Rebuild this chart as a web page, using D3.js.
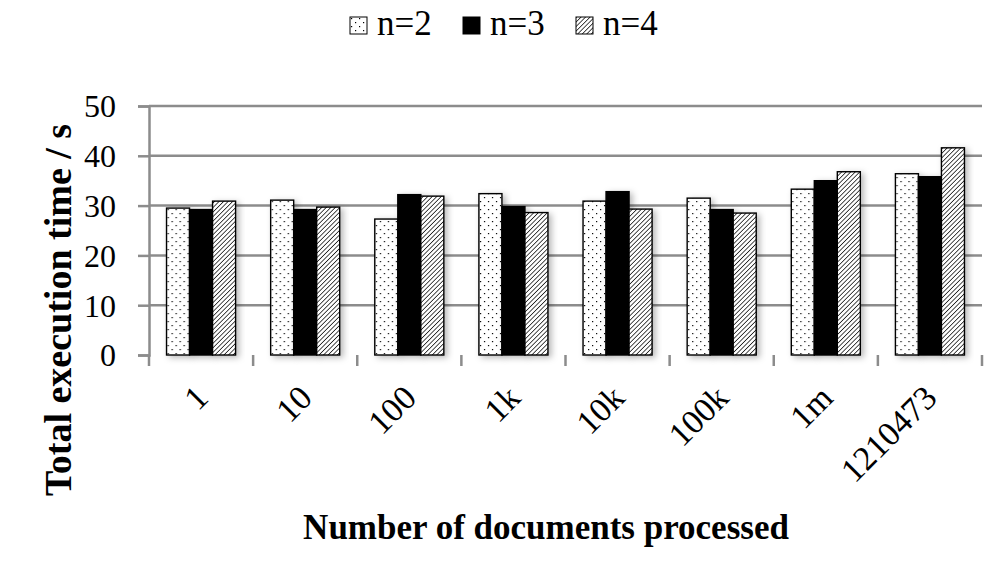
<!DOCTYPE html>
<html>
<head>
<meta charset="utf-8">
<script src="https://cdn.jsdelivr.net/npm/d3@7"></script>
<style>
  html, body { margin: 0; padding: 0; background: #fff; }
  svg { display: block; }
  text { font-family: "Liberation Serif", "Times New Roman", serif; fill: #000; }
</style>
</head>
<body>
<svg id="chart" width="1003" height="564"></svg>
<script>
const categories = ["1", "10", "100", "1k", "10k", "100k", "1m", "1210473"];
const seriesNames = ["n=2", "n=3", "n=4"];
const n2 = [29.5, 31.1, 27.3, 32.4, 30.9, 31.5, 33.3, 36.4];
const n3 = [29.2, 29.2, 32.2, 29.8, 32.8, 29.2, 35.0, 35.8];
const n4 = [30.9, 29.7, 31.9, 28.6, 29.3, 28.5, 36.8, 41.6];
const yTicks = [0, 10, 20, 30, 40, 50];

const seriesValues = [n2, n3, n4];
const fills = ["url(#dots)", "#000", "url(#hatch)"];

const svg = d3.select("#chart");
const pLeft = 149, pRight = 982, pTop = 106, pBottom = 355;
const grid = "#8c8c8c";

// defs: patterns and shadow
const defs = svg.append("defs");
const dots = defs.append("pattern").attr("id", "dots").attr("patternUnits", "userSpaceOnUse")
  .attr("width", 8).attr("height", 8);
dots.append("rect").attr("width", 8).attr("height", 8).attr("fill", "#fff");
[[1,1],[5,5]].forEach(([x,y]) => dots.append("rect").attr("x", x).attr("y", y).attr("width", 1.2).attr("height", 1.2).attr("fill", "#000"));

const hatch = defs.append("pattern").attr("id", "hatch").attr("patternUnits", "userSpaceOnUse")
  .attr("width", 3.2).attr("height", 3.2).attr("patternTransform", "rotate(45)");
hatch.append("rect").attr("width", 3.2).attr("height", 3.2).attr("fill", "#fff");
hatch.append("line").attr("x1", 0).attr("y1", 0).attr("x2", 0).attr("y2", 3.2)
  .attr("stroke", "#000").attr("stroke-width", 1.4);

const f = defs.append("filter").attr("id", "shadow").attr("x", "-20%").attr("y", "-20%").attr("width", "160%").attr("height", "140%");
f.append("feDropShadow").attr("dx", 3).attr("dy", 2).attr("stdDeviation", 3)
  .attr("flood-color", "#000").attr("flood-opacity", 0.28);

const x0 = d3.scaleBand().domain(categories).range([pLeft, pRight]).paddingInner(0.337).paddingOuter(0.1685);
const x1 = d3.scaleBand().domain(seriesNames).range([0, x0.bandwidth()]).padding(0);
const y = d3.scaleLinear().domain([0, 50]).range([pBottom, pTop]);

// gridlines
svg.append("g").selectAll("line").data(yTicks.filter(d => d > 0)).join("line")
  .attr("x1", pLeft).attr("x2", pRight)
  .attr("y1", d => y(d)).attr("y2", d => y(d))
  .attr("stroke", grid).attr("stroke-width", 2.5);

// bars
const groups = svg.append("g").selectAll("g").data(categories).join("g")
  .attr("transform", d => `translate(${x0(d)},0)`);
groups.selectAll("rect").data((c, i) => seriesNames.map((s, j) => ({s, j, v: seriesValues[j][i]})))
  .join("rect")
  .attr("x", d => x1(d.s))
  .attr("y", d => y(d.v))
  .attr("width", x1.bandwidth())
  .attr("height", d => y(0) - y(d.v))
  .attr("fill", d => fills[d.j])
  .attr("stroke", "#000").attr("stroke-width", 1.4)
  .attr("filter", "url(#shadow)");

// y axis
const yAxis = svg.append("g").attr("transform", `translate(${pLeft},0)`)
  .call(d3.axisLeft(y).tickValues(yTicks).tickSize(11).tickPadding(22).tickFormat(d3.format("d")));
yAxis.select(".domain").attr("stroke", grid).attr("stroke-width", 2.5);
yAxis.selectAll(".tick line").attr("stroke", grid).attr("stroke-width", 2.5);
yAxis.selectAll(".tick text").style("font-size", "32px").style("font-family", "'Liberation Serif', serif").attr("dy", "0.34em");

// x axis line and ticks at category boundaries
const bounds = categories.map(c => x0(c) - x0.step() * x0.paddingInner() / 2).concat([pRight]);
svg.append("line").attr("x1", pLeft).attr("x2", pRight).attr("y1", pBottom).attr("y2", pBottom)
  .attr("stroke", grid).attr("stroke-width", 2.5).attr("filter", "url(#shadow)");
svg.append("g").selectAll("line").data(bounds).join("line")
  .attr("x1", d => d).attr("x2", d => d).attr("y1", pBottom).attr("y2", pBottom + 11)
  .attr("stroke", grid).attr("stroke-width", 2.5);

// x labels rotated
svg.append("g").selectAll("text").data(categories).join("text")
  .attr("transform", d => `translate(${x0(d) + x0.bandwidth() / 2 - 8},${pBottom + 28}) rotate(-45)`)
  .attr("text-anchor", "end")
  .attr("dy", "0.7em")
  .style("font-size", "34px")
  .text(d => d);

// axis titles
svg.append("text").attr("x", 546).attr("y", 539).attr("text-anchor", "middle")
  .style("font-size", "35px").style("font-weight", "bold").text("Number of documents processed");
svg.append("text").attr("transform", "translate(71,310) rotate(-90)").attr("text-anchor", "middle")
  .style("font-size", "38px").style("font-weight", "bold").text("Total execution time / s");

// legend
const legendX = [350, 463, 576];
const lg = svg.append("g").selectAll("g").data(seriesNames).join("g")
  .attr("transform", (d, i) => `translate(${legendX[i]},17)`);
lg.append("rect").attr("width", 17).attr("height", 17)
  .attr("fill", (d, i) => fills[i]).attr("stroke", "#000").attr("stroke-width", 1);
lg.append("text").attr("x", 27).attr("y", 18).style("font-size", "35px").text(d => d);
</script>
</body>
</html>
